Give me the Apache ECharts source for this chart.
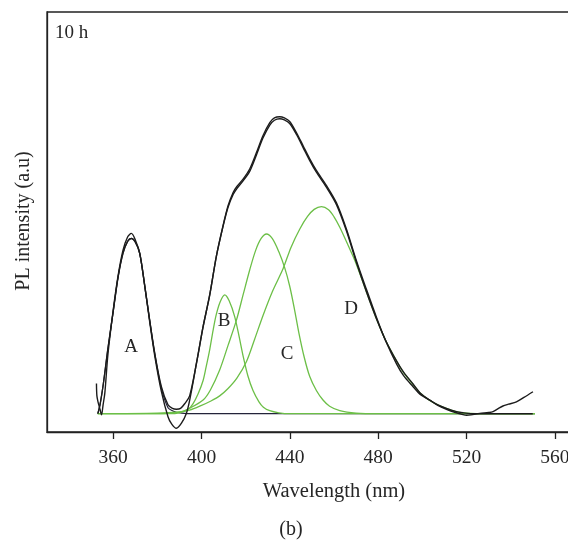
<!DOCTYPE html>
<html><head><meta charset="utf-8">
<script src="https://cdn.jsdelivr.net/npm/echarts@6/dist/echarts.min.js"></script>
<style>html,body{margin:0;padding:0;background:#fff}#c{width:568px;height:541px}</style>
</head><body><div id="c"></div>
<script>
// ---- data (wavelength nm, PL intensity a.u.) ----
const xTicks = [360, 400, 440, 480, 520, 560];
const peakLabels = ['A', 'B', 'C', 'D'];
const panelLabel = '10 h';

const measured = [[352.4,0.102],[352.6,0.06],[353.1,0.04],[354.0,0.015],[354.7,-0.004],[355.4,0.03],[356.2,0.07],[357.6,0.2],[360,0.35],[362.2,0.465],[364.4,0.55],[366.5,0.595],[368.2,0.607],[370,0.585],[372,0.54],[374.3,0.43],[376.5,0.31],[378.8,0.195],[381.8,0.075],[384.8,-0.01],[386.5,-0.035],[388.6,-0.049],[390.9,-0.032],[393.1,0.001],[394.6,0.045],[397.7,0.17],[400.7,0.293],[403.7,0.40],[406.7,0.53],[409.7,0.632],[412,0.70],[414.3,0.745],[416,0.765],[418.8,0.79],[421.8,0.824],[424.9,0.88],[427.8,0.936],[430.9,0.98],[433,0.996],[435.4,1.0],[437.5,0.996],[439.9,0.984],[443,0.946],[446,0.902],[449,0.858],[452,0.819],[456.6,0.768],[461.1,0.71],[465.6,0.622],[470.1,0.516],[474.7,0.418],[479.2,0.325],[483.5,0.243],[488.3,0.168],[491.5,0.128],[495.8,0.091],[499,0.065],[503.3,0.046],[507,0.028],[510.9,0.015],[515,0.004],[518.4,-0.003],[520,-0.005],[522,-0.004],[526,0.001],[530,0.004],[532,0.007],[534.5,0.018],[536.5,0.026],[539,0.032],[542.6,0.04],[546,0.055],[550.1,0.074]];

const fitTotal = [[353,0.0],[354,0.03],[355.5,0.10],[357.6,0.22],[360,0.345],[362.2,0.46],[364.4,0.54],[366.5,0.58],[368.2,0.59],[370,0.578],[372,0.54],[374.3,0.428],[376.5,0.315],[378.8,0.203],[381.8,0.091],[384.8,0.03],[386.8,0.018],[388.6,0.015],[390.5,0.018],[392.5,0.035],[394.6,0.06],[397.7,0.17],[400.7,0.293],[403.7,0.40],[406.7,0.53],[409.7,0.63],[412,0.695],[414.3,0.738],[416,0.758],[418.8,0.784],[421.8,0.816],[424.9,0.872],[427.8,0.928],[430.9,0.972],[433,0.988],[435.4,0.993],[437.5,0.989],[439.9,0.977],[443,0.94],[446,0.896],[449,0.852],[452,0.813],[456.6,0.762],[461.1,0.704],[465.6,0.616],[470.1,0.51],[474.7,0.41],[479.2,0.32],[483.5,0.245],[488.3,0.178],[491.5,0.14],[495.8,0.10],[499,0.07],[503.3,0.046],[507,0.03],[510.9,0.018],[515,0.008],[518.4,0.003],[522,0.0],[535,0.0],[550,0.0]];

const peakA = [[353,0.0],[354,0.03],[355.5,0.10],[357.6,0.22],[360,0.345],[362.2,0.46],[364.4,0.54],[366.5,0.58],[368.2,0.59],[370,0.578],[372,0.54],[374.3,0.428],[376.5,0.315],[378.8,0.203],[381.8,0.085],[384.8,0.02],[386.8,0.01],[388.6,0.005],[391,0.002],[395,0.0],[450,0.0],[551,0.0]];

const peakB = [[353,0.0],[385,0.0],[390,0.003],[394,0.015],[396.1,0.033],[398.5,0.068],[400.7,0.112],[402,0.155],[403.7,0.216],[405.2,0.28],[406.7,0.335],[408.5,0.378],[410.5,0.40],[412.5,0.38],[415,0.327],[417,0.26],[418.8,0.195],[421,0.127],[423.3,0.078],[426,0.04],[428,0.022],[430.9,0.01],[435,0.003],[440,0.0],[551,0.0]];

const peakC = [[353,0.0],[380,0.0],[390,0.005],[395,0.02],[400.7,0.046],[404,0.08],[408.2,0.147],[412,0.23],[415.8,0.315],[418.8,0.40],[421.8,0.484],[424.5,0.55],[427,0.59],[429.4,0.605],[432,0.59],[435,0.545],[437.7,0.49],[439.9,0.43],[442,0.355],[444,0.275],[446.5,0.19],[449,0.125],[452,0.078],[455,0.046],[458,0.025],[462.6,0.01],[470,0.002],[480,0.0],[551,0.0]];

const peakD = [[353,0.0],[380,0.002],[390,0.006],[394.6,0.012],[400,0.028],[404,0.042],[408.2,0.06],[412,0.085],[416,0.12],[420.3,0.175],[424,0.25],[427.8,0.33],[432,0.41],[436.9,0.488],[440.5,0.56],[444.5,0.622],[448,0.664],[451,0.688],[454.3,0.697],[457.5,0.687],[460,0.663],[462.6,0.628],[465.6,0.58],[468.6,0.53],[470.1,0.503],[474.7,0.41],[479.2,0.32],[483.5,0.245],[488.3,0.178],[491.5,0.138],[495.8,0.098],[499,0.07],[503.3,0.045],[507,0.03],[510.9,0.018],[515,0.008],[520,0.002],[530,0.0],[551,0.0]];

// ---- chart ----
const FONT = '"Liberation Serif", "DejaVu Serif", serif';
const TXT = '#262626';
const BLACK = '#1c1c1c';
const GREEN = '#6cbf47';
const chart = echarts.init(document.getElementById('c'), null, {renderer: 'canvas'});

function line(name, data, color, width, z) {
  return {name, type: 'line', data, showSymbol: false, symbol: 'none', smooth: 0.3,
    lineStyle: {color, width}, z, animation: false};
}

chart.setOption({
  animation: false,
  backgroundColor: '#fff',
  grid: {left: 47, top: 12, width: 525.5, height: 420, outerBoundsMode: 'none', containLabel: false,
    show: true, borderColor: '#222', borderWidth: 1.3, backgroundColor: 'transparent'},
  xAxis: {
    type: 'value', min: 330, max: 568,
    axisLine: {show: true, onZero: false, lineStyle: {color: '#222', width: 1.3}},
    axisTick: {show: true, customValues: xTicks, length: 7, inside: false, lineStyle: {color: '#222', width: 1.3}},
    axisLabel: {customValues: xTicks, color: TXT, fontFamily: FONT, fontSize: 19.5, margin: 16},
    splitLine: {show: false}
  },
  yAxis: {
    type: 'value', min: -0.0616, max: 1.3525,
    axisLine: {show: true, onZero: false, lineStyle: {color: '#222', width: 1.3}},
    axisTick: {show: false}, axisLabel: {show: false}, splitLine: {show: false}
  },
  series: [
    line('A', peakA, '#23233a', 1.2, 2),
    line('B', peakB, GREEN, 1.3, 3),
    line('C', peakC, GREEN, 1.3, 3),
    line('D', peakD, GREEN, 1.3, 3),
    line('fit', fitTotal, BLACK, 1.4, 4),
    line('measured', measured, BLACK, 1.4, 5)
  ],
  graphic: [
    {type: 'text', x: 55, y: 33, style: {text: panelLabel, font: '19px ' + FONT, fill: TXT, verticalAlign: 'middle'}},
    {type: 'text', x: 131, y: 347, style: {text: peakLabels[0], font: '19px ' + FONT, fill: TXT, align: 'center', verticalAlign: 'middle'}},
    {type: 'text', x: 224, y: 321, style: {text: peakLabels[1], font: '19px ' + FONT, fill: TXT, align: 'center', verticalAlign: 'middle'}},
    {type: 'text', x: 287, y: 354, style: {text: peakLabels[2], font: '19px ' + FONT, fill: TXT, align: 'center', verticalAlign: 'middle'}},
    {type: 'text', x: 351, y: 309, style: {text: peakLabels[3], font: '19px ' + FONT, fill: TXT, align: 'center', verticalAlign: 'middle'}},
    {type: 'text', x: 334, y: 492, style: {text: 'Wavelength (nm)', font: '20.5px ' + FONT, fill: TXT, align: 'center', verticalAlign: 'middle'}},
    {type: 'text', x: 24, y: 221, rotation: Math.PI / 2, style: {text: 'PL intensity (a.u)', font: '20px ' + FONT, fill: TXT, align: 'center', verticalAlign: 'middle'}},
    {type: 'text', x: 291, y: 530, style: {text: '(b)', font: '20px ' + FONT, fill: TXT, align: 'center', verticalAlign: 'middle'}}
  ]
});
</script>
</body></html>
